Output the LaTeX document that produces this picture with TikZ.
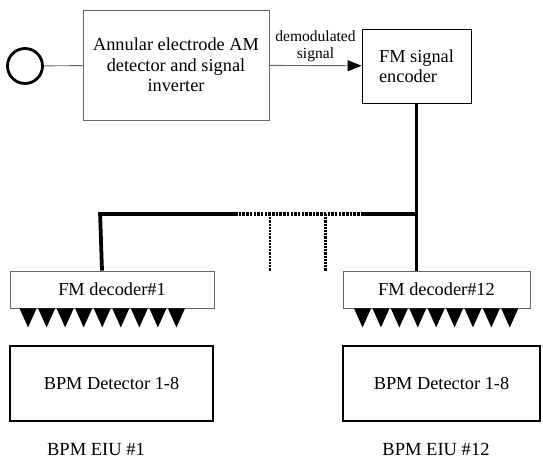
\documentclass[tikz,border=0pt]{standalone}
\usepackage{fontspec}
\setmainfont{Liberation Serif}
\usetikzlibrary{arrows.meta, positioning, calc}
\tikzset{
  blk/.style    = {rectangle, draw=black!60, line width=0.9pt, align=center,
                   font=\fontsize{18.4}{20.5}\selectfont, inner sep=0pt},
  enc/.style    = {blk, draw=black, align=left},
  dec/.style    = {blk, minimum height=37bp},
  det/.style    = {blk, draw=black, line width=1.8pt, minimum height=75bp},
  port/.style   = {circle, draw=black, line width=2.8pt, minimum size=35bp, inner sep=0pt},
  sig/.style    = {draw=black!60, line width=0.9pt},
  bus/.style    = {draw=black, line width=3.8pt},
  stub/.style   = {draw=black, line width=3.8pt, dash pattern=on 2.5bp off 1.2bp},
  vstub/.style  = {draw=black, line width=3pt, dash pattern=on 2.2bp off 1bp},
  lbl/.style    = {font=\fontsize{15.6}{17.5}\selectfont, align=center, inner sep=1pt},
  eiulbl/.style = {font=\fontsize{18.6}{20.5}\selectfont, inner sep=0pt, anchor=base},
}
\begin{document}
\begin{tikzpicture}[x=1bp, y=-1bp]
  \useasboundingbox (0,0) rectangle (543,458);

  % ---- upper chain ---------------------------------------------------------
  \node[port] (elec) at (25,66) {};
  \node[blk, minimum width=186bp, minimum height=110bp] (amdet) at (176,65)
       {Annular electrode AM\\detector and signal\\inverter};
  \node[enc, minimum width=109bp, minimum height=74bp] (fmenc) at (416.5,66)
       {FM signal\\encoder};
  \draw[sig] (elec) -- (amdet);
  \draw[sig, -{Triangle[length=14bp, width=11bp, black]}] (amdet) -- (fmenc)
       node[lbl, midway, above=2bp] {demodulated\\signal};

  % ---- receivers -----------------------------------------------------------
  \node[dec, minimum width=204bp] (fmdec1)  at (112,289.5) {FM decoder\#1};
  \node[dec, minimum width=187bp] (fmdec12) at (436.5,289.5) {FM decoder\#12};
  \node[det, minimum width=203bp] (bpm1)  at (111.5,383.5) {BPM Detector 1-8};
  \node[det, minimum width=197bp] (bpm12) at (441.5,383.5) {BPM Detector 1-8};
  \node[eiulbl] (eiu1)  at (96,455)  {BPM EIU \#1};
  \node[eiulbl] (eiu12) at (436,455) {BPM EIU \#12};

  % ---- distribution bus ----------------------------------------------------
  \coordinate (tap1)  at (102,214);
  \coordinate (tap12) at (fmenc.south |- tap1);
  \coordinate (gapL)  at (235,214);
  \coordinate (gapR)  at (362,214);
  \coordinate (drop1) at (270,214);
  \coordinate (drop2) at (325,214);
  \draw[bus] (fmenc.south) -- (fmdec12.north -| fmenc.south);
  \draw[bus] (tap1 |- fmdec1.north) -- ([xshift=-1.9bp]tap1) -- (gapL);
  \draw[bus] (gapR) -- (tap12);
  \draw[stub] (gapL) -- (gapR);
  \foreach \d in {drop1, drop2}
     \draw[vstub] (\d) -- (\d |- fmdec1.north);

  % ---- output taps ---------------------------------------------------------
  \foreach \i in {0,...,8} {
     \fill ($(fmdec1.south west)+(10+18.55*\i,0)$) -- ++(17,0) -- ++(-8.5,19) -- cycle;
     \fill ($(fmdec12.south west)+(11.5+18.4*\i,0)$) -- ++(17,0) -- ++(-8.5,19) -- cycle;
  }
\end{tikzpicture}
\end{document}
